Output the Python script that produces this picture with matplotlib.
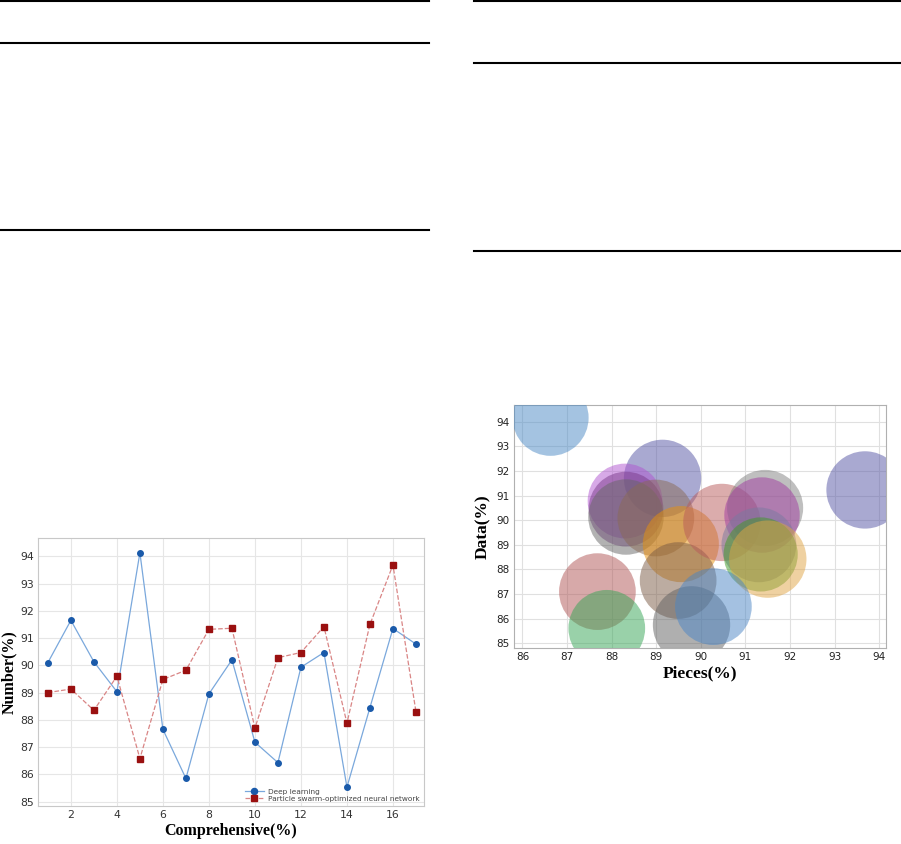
import matplotlib
matplotlib.use("Agg")
import matplotlib.pyplot as plt
from matplotlib.lines import Line2D

# ---- Left chart data ----
comp_x = [1, 2, 3, 4, 5, 6, 7, 8, 9, 10, 11, 12, 13, 14, 15, 16, 17]
deep_learning = [90.10, 91.65, 90.13, 89.03, 94.13, 87.65, 85.85, 88.95, 90.20,
                 87.18, 86.43, 89.93, 90.47, 85.53, 88.45, 91.35, 90.78]
pso_nn = [89.00, 89.13, 88.35, 89.60, 86.58, 89.48, 89.82, 91.32, 91.36,
          87.70, 90.28, 90.47, 91.42, 87.88, 91.50, 93.68, 88.30]
left_xticks = [2, 4, 6, 8, 10, 12, 14, 16]
left_yticks = [85, 86, 87, 88, 89, 90, 91, 92, 93, 94]

# ---- Right chart (bubbles) data ----
pieces = [86.63, 89.14, 88.30, 88.32, 88.32, 88.99, 89.55, 89.49, 90.47, 91.44,
          91.37, 91.30, 91.34, 91.50, 93.68, 87.68, 87.89, 89.79, 90.28]
data_v = [94.16, 91.70, 90.78, 90.45, 90.13, 90.09, 89.03, 87.55, 89.91, 90.50,
          90.21, 89.00, 88.61, 88.42, 91.23, 87.10, 85.61, 85.75, 86.49]
bubble_size = [3000, 3100, 2900, 2900, 2950, 3050, 3000, 3050, 3100, 3000,
               2950, 2900, 2850, 3100, 3100, 3050, 3050, 3100, 3050]
bubble_colors = ['#4a89c5', '#5555a5', '#b055d0', '#7a3a8a', '#666666', '#8a6a55',
                 '#e8900a', '#7a5a45', '#b85a5a', '#808080', '#a03aa0', '#7a7aa0',
                 '#3e9a25', '#e0a545', '#5555a5', '#b05555', '#35a555', '#606060',
                 '#4a85c5']
right_xticks = [86, 87, 88, 89, 90, 91, 92, 93, 94]
right_yticks = [85, 86, 87, 88, 89, 90, 91, 92, 93, 94]

W, H = 901, 844
fig = plt.figure(figsize=(W / 100, H / 100), dpi=100)

def fx(px):
    return px / W

def fy(py):
    return 1 - py / H

# page rules (table lines)
for y in [1, 43, 230]:
    fig.add_artist(Line2D([fx(0), fx(429)], [fy(y), fy(y)], color='black', lw=1.5))
for y in [1, 63, 251]:
    fig.add_artist(Line2D([fx(474), fx(901)], [fy(y), fy(y)], color='black', lw=1.5))

left_label_font = dict(family='Liberation Serif', weight='bold', size=11.5)
right_label_font = dict(family='Liberation Serif', weight='bold', size=12.5)

# ---- Left axes ----
ax1 = fig.add_axes([fx(38), fy(806), fx(424) - fx(38), fy(538) - fy(806)])
ax1.plot(comp_x, deep_learning, color='#7aa8dc', lw=0.9, marker='o', ms=4,
         mfc='#1a5aaa', mec='#1a5aaa', label='Deep learning', zorder=3)
ax1.plot(comp_x, pso_nn, color='#d98585', lw=0.9, ls='--', marker='s', ms=4,
         mfc='#9a1010', mec='#9a1010', label='Particle swarm-optimized neural network', zorder=3)
ax1.set_xlim(0.57, 17.35)
ax1.set_ylim(84.84, 94.67)
ax1.set_xticks(left_xticks)
ax1.set_yticks(left_yticks)
ax1.grid(True, color='#e6e6e6', lw=0.8)
ax1.set_axisbelow(True)
for s in ax1.spines.values():
    s.set_color('#c8c8c8')
ax1.tick_params(length=0, pad=3, labelcolor='#333333')
for lab in ax1.get_xticklabels() + ax1.get_yticklabels():
    lab.set_fontfamily('DejaVu Sans')
    lab.set_fontsize(7.8)
ax1.set_xlabel('Comprehensive(%)', fontdict=left_label_font, labelpad=2)
ax1.set_ylabel('Number(%)', fontdict=left_label_font, labelpad=2)
leg = ax1.legend(loc='lower right', frameon=False, fontsize=5.3, handlelength=2.6,
                 borderaxespad=0.15, labelspacing=0.15, handletextpad=0.6,
                 markerscale=1.1)
for t in leg.get_texts():
    t.set_color('#444444')

# ---- Right axes ----
ax2 = fig.add_axes([fx(514), fy(648), fx(886) - fx(514), fy(405) - fy(648)])
ax2.scatter(pieces, data_v, s=bubble_size, c=bubble_colors, alpha=0.5,
            edgecolors='none', zorder=3)
ax2.set_xlim(85.81, 94.15)
ax2.set_ylim(84.81, 94.68)
ax2.set_xticks(right_xticks)
ax2.set_yticks(right_yticks)
ax2.grid(True, color='#e0e0e0', lw=0.8)
ax2.set_axisbelow(True)
for s in ax2.spines.values():
    s.set_color('#b0b0b0')
ax2.tick_params(length=0, pad=3, labelcolor='#222222')
for lab in ax2.get_xticklabels() + ax2.get_yticklabels():
    lab.set_fontfamily('DejaVu Sans')
    lab.set_fontsize(7.5)
ax2.set_xlabel('Pieces(%)', fontdict=right_label_font, labelpad=2)
ax2.set_ylabel('Data(%)', fontdict=right_label_font, labelpad=4)

fig.savefig('out.png', dpi=100)
